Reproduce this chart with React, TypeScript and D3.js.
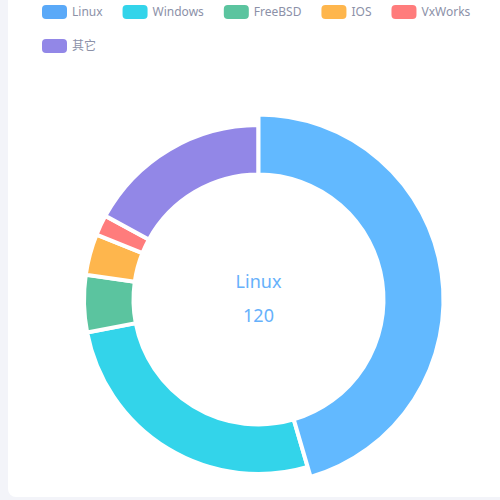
import * as d3 from "d3"

// chart data
const categories = ["Linux", "Windows", "FreeBSD", "IOS", "VxWorks", "其它"]
const counts = [120, 70, 14, 10, 5, 45]
const colors = ["#5aa9f8", "#33d4ea", "#5bc49f", "#feb64d", "#ff7c7c", "#9287e7"]
const highlighted = "Linux"

const W = 500
const H = 500
const cx = 258.5
const cy = 299.5
const innerR = 125
const outerR = 174.5
const legendFont = "12px 'Noto Sans', 'Noto Sans CJK SC', sans-serif"

function measure(text: string) {
  const ctx = document.createElement("canvas").getContext("2d")
  if (!ctx) return text.length * 7
  ctx.font = legendFont
  return ctx.measureText(text).width
}

export default function App() {
  const data = categories.map((name, i) => ({ name, value: counts[i], color: colors[i] }))

  const pie = d3
    .pie<{ name: string; value: number; color: string }>()
    .value((d) => d.value)
    .sort(null)

  const arcs = pie(data)
  const arc = d3.arc<d3.PieArcDatum<any>>().innerRadius(innerR).outerRadius(outerR)
  const arcHi = d3.arc<d3.PieArcDatum<any>>().innerRadius(innerR).outerRadius(outerR + 10.5)

  // draw highlighted slice last
  const ordered = [...arcs].sort(
    (a, b) => Number(a.data.name === highlighted) - Number(b.data.name === highlighted),
  )
  const hi = arcs.find((a) => a.data.name === highlighted)!

  // legend flow layout
  const legendItems: { name: string; color: string; x: number; y: number }[] = []
  let lx = 42
  let ly = 5
  data.forEach((d) => {
    const w = 25 + 5 + measure(d.name)
    if (lx + w > 480 && lx > 42) {
      lx = 42
      ly += 34
    }
    legendItems.push({ name: d.name, color: d.color, x: lx, y: ly })
    lx += w + 20
  })

  return (
    <svg
      width={W}
      height={H}
      style={{ position: "fixed", left: 0, top: 0 }}
      fontFamily="'Noto Sans', 'Noto Sans CJK SC', sans-serif"
    >
      <rect width={W} height={H} fill="#f3f4f9" />
      <rect x={8} y={-10} width={W + 20} height={H + 7} rx={8} fill="#ffffff" />

      <g className="legend">
        {legendItems.map((d) => (
          <g key={d.name} transform={`translate(${d.x},${d.y})`}>
            <rect width={25} height={14} rx={4} fill={d.color} />
            <text x={30} y={7} dy="0.35em" fontSize={12} fill="#8c91a8">
              {d.name}
            </text>
          </g>
        ))}
      </g>

      <g transform={`translate(${cx},${cy})`}>
        {ordered.map((a) => {
          const isHi = a.data.name === highlighted
          return (
            <path
              key={a.data.name}
              d={(isHi ? arcHi(a) : arc(a)) || ""}
              fill={isHi ? d3.color(a.data.color)!.brighter(0.25).formatHex() : a.data.color}
              stroke="#ffffff"
              strokeWidth={4}
            />
          )
        })}
        <text y={-12} textAnchor="middle" fontSize={18} fill="#66b1fb">
          {hi.data.name}
        </text>
        <text y={22} textAnchor="middle" fontSize={18} fill="#66b1fb">
          {hi.data.value}
        </text>
      </g>
    </svg>
  )
}
